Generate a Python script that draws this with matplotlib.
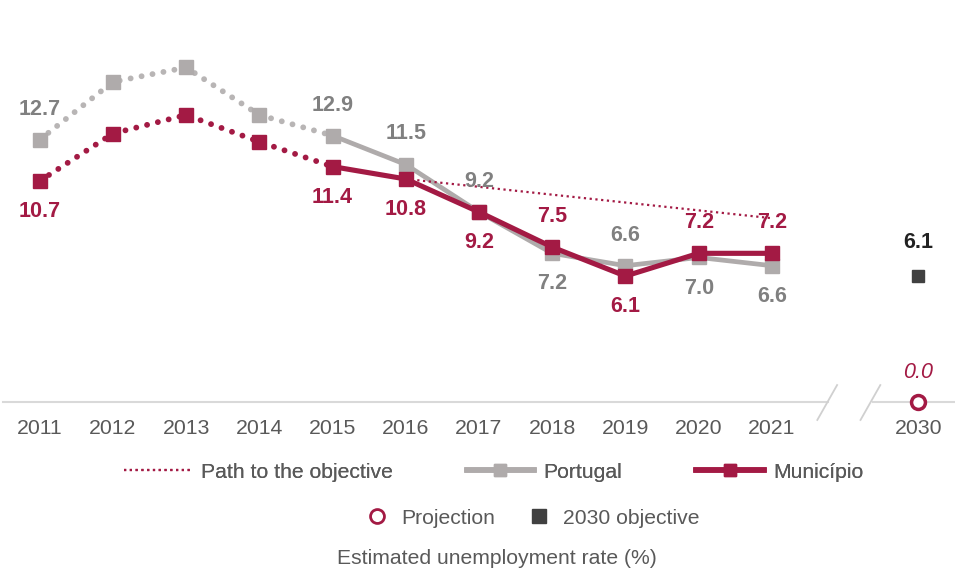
import numpy as np
import matplotlib
matplotlib.use("Agg")
import matplotlib.pyplot as plt
from matplotlib.lines import Line2D

plt.rcParams['font.family'] = ['Liberation Sans', 'DejaVu Sans']

# data
years = ["2011", "2012", "2013", "2014", "2015", "2016", "2017", "2018", "2019", "2020", "2021"]
portugal = [12.7, 15.5, 16.2, 13.9, 12.9, 11.5, 9.2, 7.2, 6.6, 7.0, 6.6]
municipio = [10.7, 13.0, 13.9, 12.6, 11.4, 10.8, 9.2, 7.5, 6.1, 7.2, 7.2]
path_years = ["2016", "2021"]
path_values = [10.8, 8.9]
target_year = "2030"
objective = 6.1
projection = 0.0

# which points get a label, and where (+1 above, -1 below)
pt_labels = {"2011": 1, "2015": 1, "2016": 1, "2017": 1, "2018": -1,
             "2019": 1, "2020": -1, "2021": -1}
mun_labels = {"2011": -1, "2015": -1, "2016": -1, "2017": -1, "2018": 1,
              "2019": -1, "2020": 1, "2021": 1}

crimson = "#A31A44"
grey = "#AFABAB"
grey_txt = "#808080"
txt = "#595959"
dark = "#404040"

x = np.arange(len(years))
xpos = dict(zip(years, x))
xpos[target_year] = len(years) + 1

fig = plt.figure(figsize=(9.55, 5.77), dpi=100)
ax = fig.add_axes([3 / 955, 1 - 402 / 577, 952 / 955, 402 / 577])
ax.set_xlim(-0.5, 12.5)
ax.set_ylim(0, 402 / 20.65)
ax.axis("off")

dotted = (0, (0.01, 1.9))
split = years.index("2015")

# Portugal
ax.plot(x[:split + 1], portugal[:split + 1], color="#B8B5B5", lw=4.2, linestyle=dotted,
        dash_capstyle="round", zorder=2)
ax.plot(x[split:], portugal[split:], color=grey, lw=3.4, solid_capstyle="butt", zorder=2)
ax.plot(x, portugal, linestyle="none", marker="s", ms=10, color=grey, zorder=3)

# Municipio
ax.plot(x[:split + 1], municipio[:split + 1], color=crimson, lw=4.2, linestyle=dotted,
        dash_capstyle="round", zorder=4)
ax.plot(x[split:], municipio[split:], color=crimson, lw=3.7, zorder=4)
ax.plot(x, municipio, linestyle="none", marker="s", ms=10, color=crimson, zorder=5)

# path to the objective
ax.plot([xpos[y] for y in path_years], path_values, color=crimson, lw=1.6,
        linestyle=(0, (1, 1.6)), zorder=3)

# 2030 objective + projection
ax.plot(xpos[target_year], objective, marker="s", ms=9, color=dark, linestyle="none",
        zorder=5)
ax.plot(xpos[target_year], projection, marker="o", ms=10, mfc="white", mec=crimson,
        mew=2.5, linestyle="none", clip_on=False, zorder=6)

# value labels
lab_size = 15.5
for yr, side in pt_labels.items():
    v = portugal[years.index(yr)]
    ax.annotate(f"{v:.1f}", (xpos[yr], v), xytext=(0, 22 * side), textcoords="offset points",
                ha="center", va="center", fontsize=lab_size, fontweight="bold", color=grey_txt,
                zorder=7)
for yr, side in mun_labels.items():
    v = municipio[years.index(yr)]
    ax.annotate(f"{v:.1f}", (xpos[yr], v), xytext=(0, 22 * side), textcoords="offset points",
                ha="center", va="center", fontsize=lab_size, fontweight="bold", color=crimson,
                zorder=7)
ax.annotate(f"{objective:.1f}", (xpos[target_year], objective), xytext=(0, 24),
            textcoords="offset points", ha="center", va="center", fontsize=lab_size,
            fontweight="bold", color="#222222")
ax.annotate(f"{projection:.1f}", (xpos[target_year], projection), xytext=(0, 21),
            textcoords="offset points", ha="center", va="center", fontsize=lab_size,
            style="italic", color=crimson)

# axis line with a break between 2021 and 2030
ax.plot([-0.5, 10.76], [0, 0], color="#D9D9D9", lw=1.5, clip_on=False, zorder=1)
ax.plot([11.38, 12.5], [0, 0], color="#D9D9D9", lw=1.5, clip_on=False, zorder=1)
for bx in (10.62, 11.21):
    ax.plot([bx, bx + 0.27], [-0.87, 0.82], color="#D0D0D0", lw=1.3, clip_on=False)

for yr in years + [target_year]:
    ax.text(xpos[yr], -1.28, yr, ha="center", va="center", fontsize=15.3, color=txt)

# legend
h_path = Line2D([], [], color=crimson, lw=1.6, linestyle=(0, (1, 1.6)))
h_pt = Line2D([], [], color=grey, lw=4, marker="s", ms=8)
h_mun = Line2D([], [], color=crimson, lw=4, marker="s", ms=8)
h_proj = Line2D([], [], color=crimson, marker="o", mfc="white", mew=2, ms=10, linestyle="none")
h_obj = Line2D([], [], color=dark, marker="s", ms=10, linestyle="none")
leg_size = 15.2
leg1 = fig.legend([h_path, h_pt, h_mun], ["Path to the objective", "Portugal", "Município"],
                  ncol=3, loc="center", bbox_to_anchor=(0.517, 1 - 472 / 577), frameon=False,
                  handlelength=3.2, handletextpad=0.45, columnspacing=3.5,
                  prop={"size": leg_size}, labelcolor=txt)
fig.add_artist(leg1)
fig.legend([h_proj, h_obj], ["Projection", "2030 objective"], ncol=2, loc="center",
           bbox_to_anchor=(0.557, 1 - 518 / 577), frameon=False, handlelength=1.2,
           handletextpad=0.55, columnspacing=1.5, prop={"size": leg_size},
           labelcolor=txt)
fig.text(0.52, 1 - 558 / 577, "Estimated unemployment rate (%)", ha="center", va="center",
         fontsize=leg_size, color=txt)

fig.savefig("out.png", dpi=100, facecolor="white")
